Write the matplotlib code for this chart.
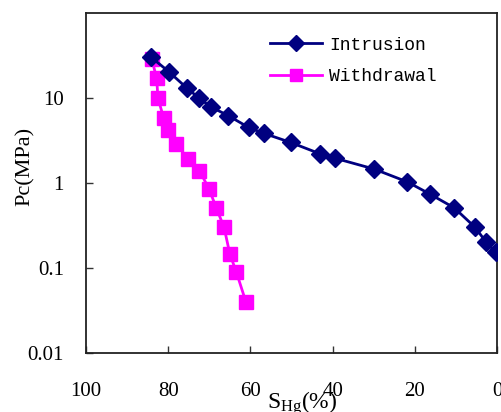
import matplotlib
matplotlib.use("Agg")
import matplotlib.pyplot as plt
from matplotlib.ticker import FixedLocator, NullLocator

plt.rcParams['font.family'] = ['Liberation Serif', 'DejaVu Serif']
plt.rcParams['mathtext.fontset'] = 'custom'
plt.rcParams['mathtext.rm'] = 'Liberation Serif'
plt.rcParams['mathtext.it'] = 'Liberation Serif:italic'

# Mercury intrusion / withdrawal capillary pressure curves
intrusion_shg = [84.1, 79.9, 75.4, 72.5, 69.7, 65.4, 60.4, 56.8, 50.2, 43.0,
                 39.3, 29.9, 21.8, 16.3, 10.4, 5.3, 2.6, 0.3]
intrusion_pc = [30.0, 20.5, 13.0, 10.0, 7.9, 6.2, 4.5, 3.85, 3.0, 2.2,
                1.95, 1.46, 1.03, 0.74, 0.51, 0.30, 0.20, 0.154]

withdrawal_shg = [84.0, 82.8, 82.5, 81.1, 80.0, 78.0, 75.1, 72.4, 70.1, 68.3,
                  66.4, 65.0, 63.4, 61.1]
withdrawal_pc = [28.8, 17.0, 10.0, 5.8, 4.2, 2.88, 1.9, 1.4, 0.86, 0.51,
                 0.30, 0.146, 0.089, 0.040]

x_ticks = [100, 80, 60, 40, 20, 0]
y_ticks = [0.01, 0.1, 1, 10]
y_tick_labels = ['0.01', '0.1', '1', '10']

fig = plt.figure(figsize=(5.02, 4.12), dpi=100)
ax = fig.add_axes([86 / 502, 1 - 353 / 412, 411 / 502, 340 / 412])

ax.plot(intrusion_shg, intrusion_pc, color='#000080', lw=2.0, marker='D',
        markersize=9, markeredgecolor='#000080', label='Intrusion', zorder=3)
ax.plot(withdrawal_shg, withdrawal_pc, color='#FF00FF', lw=2.0, marker='s',
        markersize=10, markeredgecolor='#FF00FF', label='Withdrawal', zorder=2)

ax.set_yscale('log')
ax.set_xlim(100, 0)
ax.set_ylim(0.01, 100)
ax.xaxis.set_major_locator(FixedLocator(x_ticks))
ax.xaxis.set_minor_locator(NullLocator())
ax.yaxis.set_major_locator(FixedLocator(y_ticks))
ax.yaxis.set_minor_locator(NullLocator())
ax.set_yticklabels(y_tick_labels)
ax.set_xticklabels([str(v) for v in x_ticks])

ax.tick_params(axis='both', direction='in', length=5, width=1, labelsize=15,
               color='#333333')
ax.tick_params(axis='x', pad=21)
ax.tick_params(axis='y', pad=16)
for s in ax.spines.values():
    s.set_linewidth(1.3)
    s.set_color('#222222')

ax.set_ylabel('Pc(MPa)', fontsize=16)
ax.yaxis.set_label_coords(-0.125, 0.55)
ax.set_xlabel(r'S$_{\mathrm{Hg}}$(%)', fontsize=17)
ax.xaxis.set_label_coords(0.525, -0.105)

leg = ax.legend(loc='upper left', bbox_to_anchor=(0.448, 0.93), frameon=False,
                prop={'family': 'Liberation Mono', 'size': 13},
                handlelength=2.9, handletextpad=0.35, labelspacing=0.8,
                borderpad=0, borderaxespad=0)
for h in leg.legend_handles:
    h.set_markersize(8)

fig.savefig('out.png', dpi=100)
